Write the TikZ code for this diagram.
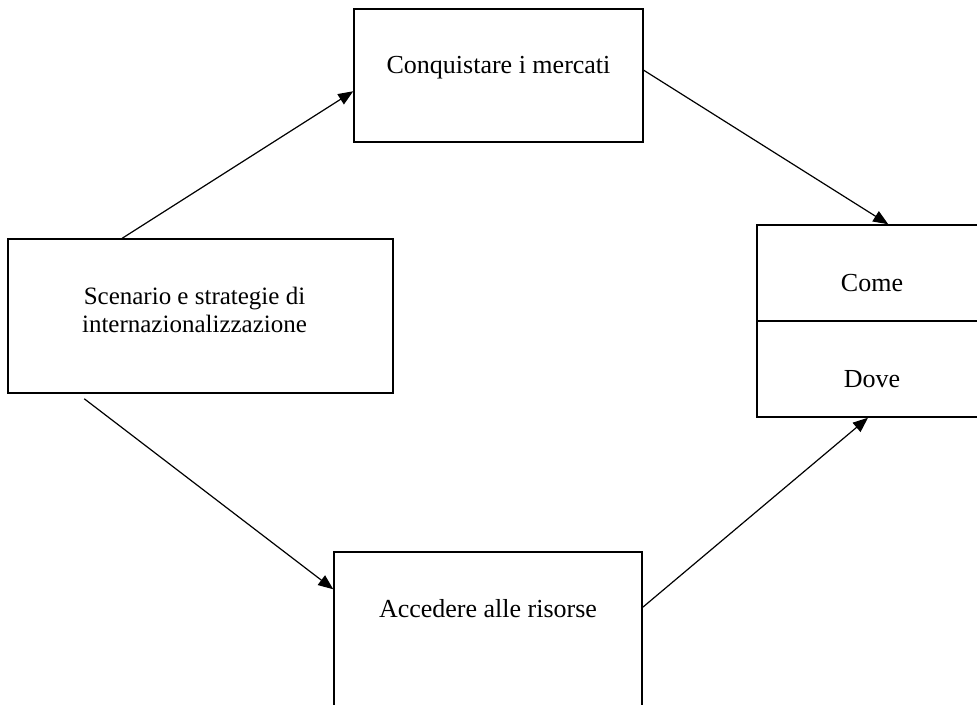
\documentclass[tikz,border=0pt]{standalone}
\usepackage{fontspec}
\setmainfont{Liberation Serif}
\usetikzlibrary{arrows.meta,positioning}

\begin{document}
\begin{tikzpicture}[x=1pt,y=-1pt,>={Triangle[length=15pt,width=12pt]},line width=1.2pt,
	box/.style={draw,line width=1.5pt,inner sep=0pt},
	txt/.style={anchor=base,inner sep=0pt,font=\fontsize{26}{28}\selectfont}]
	\useasboundingbox (0,0) rectangle (977,704);
	% boxes
	\node[box,minimum width=289pt,minimum height=133pt] (conq) at (498.5,75.5) {};
	\node[box,minimum width=385pt,minimum height=154pt] (scen) at (200.5,316) {};
	\node[box,minimum width=308pt,minimum height=200pt] (acc) at (488,652) {};
	\node[box,minimum width=230pt,minimum height=192pt] (comedove) at (872,321) {};
	\draw[line width=1.5pt] (comedove.west) -- (comedove.east);
	
	% texts
	\node[txt] (conqtxt) at ([yshift=-65pt]conq.north) {Conquistare i mercati};
	\node[txt,align=center,anchor=center,font=\fontsize{25}{28}\selectfont] (scentxt) at ([xshift=-6pt,yshift=-71.3pt]scen.north) {Scenario e strategie di\\internazionalizzazione};
	\node[txt] (acctxt) at ([yshift=-66pt]acc.north) {Accedere alle risorse};
	\node[txt] (come) at ([yshift=-67pt]comedove.north) {Come};
	\node[txt] (dove) at ([yshift=-66pt]comedove.center) {Dove};
	
	% arrows
	\draw[->] ([xshift=115pt]scen.north west) -- ([yshift=-83pt]conq.north west);
	\draw[->] ([yshift=-62pt]conq.north east) -- ([xshift=132pt]comedove.north west);
	\draw[->] ([xshift=77pt,yshift=-5pt]scen.south west) -- ([yshift=-38pt]acc.north west);
	\draw[->] ([yshift=-56pt]acc.north east) -- ([xshift=-4pt]comedove.south);
\end{tikzpicture}
\end{document}
